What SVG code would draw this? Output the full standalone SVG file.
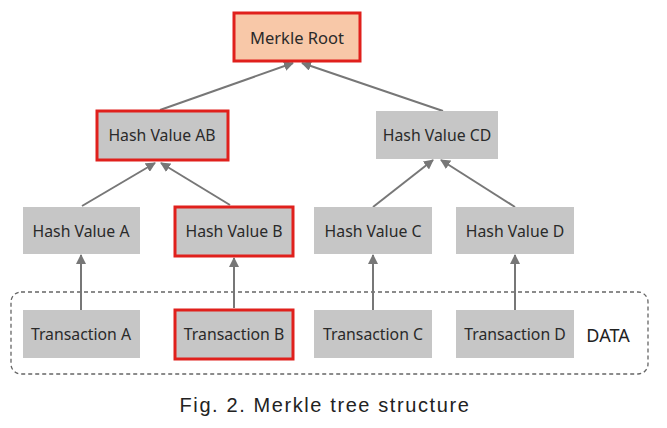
<svg xmlns="http://www.w3.org/2000/svg" width="667" height="428" viewBox="0 0 667 428">
<defs>
<style>
.n{fill:#c6c6c6;}
.r{stroke:#e0201c;stroke-width:3;}
.t{font-family:"Noto Sans","Liberation Sans",sans-serif;font-size:15.8px;fill:#2a2a2a;text-anchor:middle;dominant-baseline:central;}
.c{stroke:#777;stroke-width:2;fill:none;marker-end:url(#ah);}
</style>
<marker id="ah" viewBox="0 0 10 10" refX="9" refY="5" markerWidth="5" markerHeight="5" orient="auto" markerUnits="strokeWidth">
<path d="M0,0 L10,5 L0,10 z" fill="#777"/>
</marker>
</defs>
<rect width="667" height="428" fill="#fff"/>
<g id="data-group">
<rect x="11" y="292" width="637" height="82" rx="10" fill="none" stroke="#666" stroke-width="1.3" stroke-dasharray="4,3"/>
<text x="608" y="335" style="font-family:'Noto Sans','Liberation Sans',sans-serif;font-size:18px;fill:#222;text-anchor:middle;dominant-baseline:central;">DATA</text>
</g>
<g id="connectors">
<line class="c" x1="81" y1="310" x2="81" y2="255"/>
<line class="c" x1="234" y1="308" x2="234" y2="258"/>
<line class="c" x1="373" y1="310" x2="373" y2="255"/>
<line class="c" x1="515" y1="310" x2="515" y2="255"/>
<line class="c" x1="82" y1="206" x2="155" y2="163"/>
<line class="c" x1="230" y1="205" x2="161" y2="163"/>
<line class="c" x1="373" y1="207" x2="433" y2="160"/>
<line class="c" x1="515" y1="207" x2="441" y2="160"/>
<line class="c" x1="160" y1="110" x2="293" y2="63"/>
<line class="c" x1="443" y1="111" x2="302" y2="63"/>
</g>
<g id="merkle-root">
<rect x="234" y="13" width="126" height="48" fill="#f8c8a8" class="r"/>
<text class="t" x="297" y="37" style="font-size:16.5px">Merkle Root</text>
</g>
<g id="hash-ab">
<rect x="97" y="111" width="131" height="49" class="n r"/>
<text class="t" x="162" y="135">Hash Value AB</text>
</g>
<g id="hash-cd">
<rect x="376" y="111" width="122" height="48" class="n"/>
<text class="t" x="437" y="135">Hash Value CD</text>
</g>
<g id="hash-a">
<rect x="23" y="207" width="117" height="47" class="n"/>
<text class="t" x="81" y="231">Hash Value A</text>
</g>
<g id="hash-b">
<rect x="175" y="207" width="118" height="49" class="n r"/>
<text class="t" x="234" y="231">Hash Value B</text>
</g>
<g id="hash-c">
<rect x="314" y="207" width="118" height="47" class="n"/>
<text class="t" x="373" y="231">Hash Value C</text>
</g>
<g id="hash-d">
<rect x="456" y="207" width="118" height="47" class="n"/>
<text class="t" x="515" y="231">Hash Value D</text>
</g>
<g id="tx-a">
<rect x="23" y="310" width="117" height="48" class="n"/>
<text class="t" x="81" y="334">Transaction A</text>
</g>
<g id="tx-b">
<rect x="175" y="310" width="118" height="49" class="n r"/>
<text class="t" x="234" y="334">Transaction B</text>
</g>
<g id="tx-c">
<rect x="314" y="310" width="118" height="48" class="n"/>
<text class="t" x="373" y="334">Transaction C</text>
</g>
<g id="tx-d">
<rect x="456" y="310" width="118" height="48" class="n"/>
<text class="t" x="515" y="334">Transaction D</text>
</g>
<text x="325" y="412" style="font-family:'Liberation Sans',sans-serif;font-size:20px;fill:#222;text-anchor:middle;letter-spacing:1.6px;">Fig. 2. Merkle tree structure</text>
</svg>
